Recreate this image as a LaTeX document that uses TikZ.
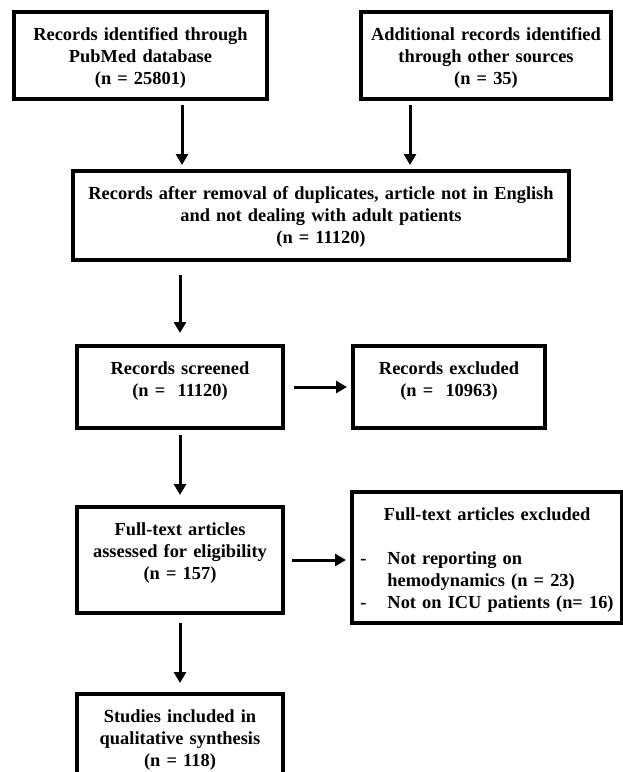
\documentclass[tikz,border=0pt]{standalone}
\usepackage{fontspec}
\setmainfont{Liberation Serif}
\usetikzlibrary{arrows.meta, positioning}

\begin{document}
\begin{tikzpicture}[font=\bfseries\fontsize{18.4}{22}\selectfont,
    BOX/.style={draw, line width=3.5pt, outer sep=0pt, inner sep=0pt, align=center, text height=28pt},
    ARR/.style={-{Triangle[length=11pt,width=12pt]}, line width=3pt}]
    \path[use as bounding box, clip] (0,0) rectangle (623pt,-772pt);
    \node[BOX, text width=253pt, text depth=59pt, anchor=north west] (pubmed) at (14pt,-12pt) {Records identified through\\PubMed database\\(n = 25801)};
    \node[BOX, text width=250pt, text depth=59pt, right=94pt of pubmed] (other) {Additional records identified\\through other sources\\(n = 35)};
    \node[BOX, text width=496pt, text depth=61pt, below right=72pt and 59pt of pubmed.south west] (removal) {Records after removal of duplicates, article not in English\\and not dealing with adult patients\\(n = 11120)};
    \node[BOX, text width=206pt, text depth=54pt, below right=86pt and 4pt of removal.south west] (screened) {Records screened\\(n =~~11120)};
    \node[BOX, text width=192pt, text depth=54pt, right=70pt of screened] (excl1) {Records excluded\\(n =~~10963)};
    \node[BOX, text width=206pt, text depth=78pt, below=79pt of screened] (fulltext) {Full-text articles\\assessed for eligibility\\(n = 157)};
    \node[BOX, text width=270pt, text depth=103pt, right=69pt of fulltext, yshift=2.5pt] (excl2) {Full-text articles excluded\\[22pt]\begin{tabular}[t]{@{}l@{\hspace{21pt}}l@{}}- & Not reporting on\\ & hemodynamics (n = 23)\\- & Not on ICU patients (n= 16)\end{tabular}};
    \node[BOX, text width=206pt, text depth=78pt, below=81pt of fulltext] (studies) {Studies included in\\qualitative synthesis\\(n = 118)};
    \draw[ARR, shorten <=6pt, shorten >=6pt] ([xshift=41.5pt]pubmed.south) -- ([xshift=41.5pt]pubmed.south |- removal.north);
    \draw[ARR, shorten <=6pt, shorten >=6pt] ([xshift=-76pt]other.south) -- ([xshift=-76pt]other.south |- removal.north);
    \draw[ARR, shorten <=15pt, shorten >=13pt] (removal.south -| screened.north) -- (screened.north);
    \draw[ARR, shorten <=11pt, shorten >=6pt] (screened.east) -- (screened.east -| excl1.west);
    \draw[ARR, shorten <=7pt, shorten >=12pt] (screened.south) -- (fulltext.north);
    \draw[ARR, shorten <=9pt, shorten >=6pt] (fulltext.east) -- (fulltext.east -| excl2.west);
    \draw[ARR, shorten <=10pt, shorten >=11pt] (fulltext.south) -- (studies.north);
\end{tikzpicture}
\end{document}
